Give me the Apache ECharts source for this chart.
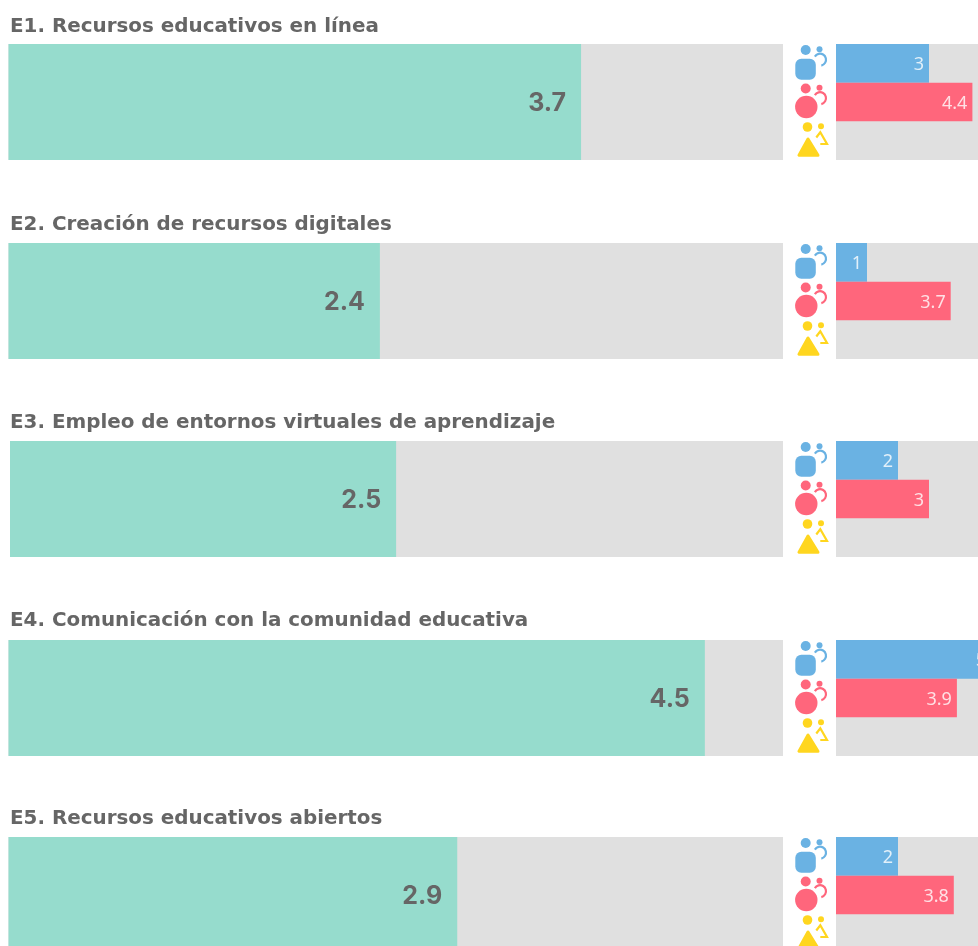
<!DOCTYPE html>
<html>
<head>
<meta charset="utf-8">
<style>
  html, body { margin: 0; padding: 0; background: #fff; overflow: hidden; }
  #main { width: 978px; height: 946px; }
</style>
<script src="https://cdn.jsdelivr.net/npm/echarts@6/dist/echarts.min.js"></script>
</head>
<body>
<div id="main"></div>
<script>
var titles = [
  'E1. Recursos educativos en línea',
  'E2. Creación de recursos digitales',
  'E3. Empleo de entornos virtuales de aprendizaje',
  'E4. Comunicación con la comunidad educativa',
  'E5. Recursos educativos abiertos'
];
var totals = [3.7, 2.4, 2.5, 4.5, 2.9];
var blueValues = [3, 1, 2, 5, 2];
var redValues = [4.4, 3.7, 3, 3.9, 3.8];
var yellowValues = [null, null, null, null, null];
var groups = ['Azul', 'Rojo', 'Amarillo'];

var rowTops = [44, 243, 441, 640, 837];
var rowLefts = [8.5, 8.5, 10, 8.5, 8.5];
var titleY = [17, 215, 413, 611, 809];

var BLUE = '#6ab2e3', RED = '#ff667c', YELLOW = '#ffd61f', TEAL = '#96dccd', GREY = '#e0e0e0';
var FONT = 'Inter, "Noto Sans", sans-serif';
var TITLE_FONT = '"DejaVu Sans", sans-serif';
var SMALL_FONT = '"Noto Sans", sans-serif';

// iconos: adulto + niño, uno por cada fila de la derecha
function icon(top, color, kind) {
  var els = [];
  var headX = kind === 2 ? 807.5 : 805.7;
  var headR = kind === 2 ? 4.8 : 5;
  els.push({ type: 'circle', shape: { cx: headX, cy: top + 6, r: headR }, style: { fill: color } });
  els.push({ type: 'circle', shape: { cx: kind === 2 ? 821 : 819.5, cy: top + 5.3, r: 3 }, style: { fill: color } });
  if (kind === 0) {
    els.push({ type: 'rect', shape: { x: 795.3, y: top + 14.7, width: 20.5, height: 21, r: 6 }, style: { fill: color } });
  } else if (kind === 1) {
    els.push({ type: 'circle', shape: { cx: 806.3, cy: top + 24.5, r: 11.2 }, style: { fill: color } });
  } else {
    els.push({
      type: 'polygon',
      shape: { points: [[808, top + 18], [799, top + 34.2], [818, top + 34.2]] },
      style: { fill: color, stroke: color, lineWidth: 3, lineJoin: 'round' }
    });
  }
  if (kind === 2) {
    els.push({
      type: 'polyline',
      shape: { points: [[816.3, top + 16.5], [820.3, top + 11.3], [827, top + 23], [820.3, top + 23]] },
      style: { fill: 'none', stroke: color, lineWidth: 2.2 }
    });
  } else {
    els.push({
      type: 'arc',
      shape: { cx: 820, cy: top + 15.7, r: 6, startAngle: -2.6, endAngle: 1.35, clockwise: true },
      style: { fill: 'none', stroke: color, lineWidth: 2.2 }
    });
  }
  return els;
}

var grids = [], xAxes = [], yAxes = [], series = [], titleList = [], graphics = [];

titles.forEach(function (t, i) {
  var top = rowTops[i];
  titleList.push({
    text: t, left: 10, top: titleY[i], padding: 0,
    textStyle: { fontFamily: TITLE_FONT, fontSize: 19.9, fontWeight: 'bold', color: '#666666' }
  });

  // barra grande
  grids.push({ left: rowLefts[i], top: top, width: 783 - rowLefts[i], height: 116, show: true, backgroundColor: GREY, borderWidth: 0, outerBoundsMode: 'none' });
  xAxes.push({ gridIndex: i * 2, type: 'value', min: 0, max: 5.005, show: false });
  yAxes.push({ gridIndex: i * 2, type: 'category', data: [t], show: false });
  series.push({
    type: 'bar', xAxisIndex: i * 2, yAxisIndex: i * 2, data: [totals[i]], barWidth: '100%',
    itemStyle: { color: TEAL }, animation: false, silent: true,
    label: {
      show: true, position: 'insideRight', distance: 15, offset: [0, 1],
      fontFamily: FONT, fontSize: 25, fontWeight: 'bold', color: '#666666',
      formatter: function (p) { return p.value.toFixed(1); }
    }
  });

  // barras pequeñas, el eje llega a 5 fuera del lienzo
  grids.push({ left: 836, top: top, width: 155, height: 116, show: true, backgroundColor: GREY, borderWidth: 0, outerBoundsMode: 'none' });
  xAxes.push({ gridIndex: i * 2 + 1, type: 'value', min: 0, max: 5, show: false });
  yAxes.push({ gridIndex: i * 2 + 1, type: 'category', inverse: true, data: groups, show: false });
  series.push({
    type: 'bar', xAxisIndex: i * 2 + 1, yAxisIndex: i * 2 + 1, barWidth: '100%', animation: false, silent: true,
    data: [
      { value: blueValues[i], itemStyle: { color: BLUE } },
      { value: redValues[i], itemStyle: { color: RED } },
      { value: yellowValues[i], itemStyle: { color: YELLOW } }
    ],
    label: {
      show: true, position: 'insideRight', distance: 5, offset: [0, 1.5],
      fontFamily: SMALL_FONT, fontSize: 18, color: 'rgba(255,255,255,0.8)'
    }
  });

  graphics = graphics.concat(icon(top, BLUE, 0), icon(top + 38.5, RED, 1), icon(top + 77, YELLOW, 2));
});

var myChart = echarts.init(document.getElementById('main'));
myChart.setOption({
  backgroundColor: '#ffffff',
  animation: false,
  title: titleList,
  grid: grids,
  xAxis: xAxes,
  yAxis: yAxes,
  series: series,
  graphic: graphics
});
</script>
</body>
</html>
